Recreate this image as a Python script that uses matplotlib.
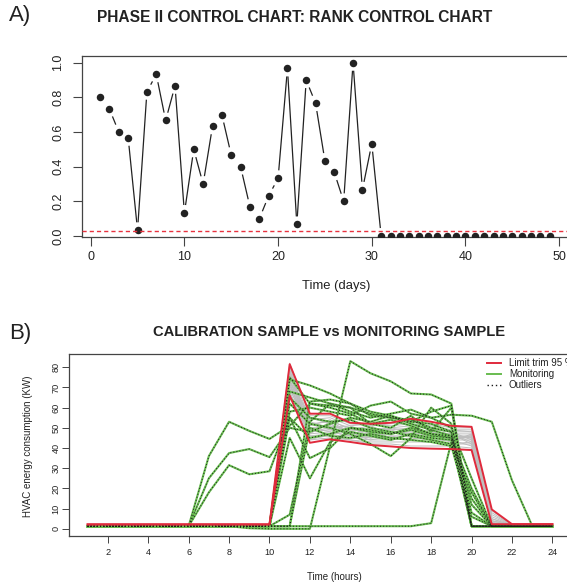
import matplotlib
matplotlib.use('Agg')
import matplotlib.pyplot as plt
from matplotlib.lines import Line2D
import numpy as np

plt.rcParams['font.family'] = ['Liberation Sans', 'DejaVu Sans']

# ---------------- Panel A data ----------------
days = list(range(1, 50))
rank_stat = [0.800, 0.733, 0.600, 0.567, 0.033, 0.833, 0.933, 0.667, 0.867, 0.133,
             0.500, 0.300, 0.633, 0.700, 0.467, 0.400, 0.167, 0.100, 0.233, 0.333,
             0.967, 0.067, 0.900, 0.767, 0.433, 0.367, 0.200, 1.000, 0.267, 0.533,
             0.0, 0.0, 0.0, 0.0, 0.0, 0.0, 0.0, 0.0, 0.0, 0.0,
             0.0, 0.0, 0.0, 0.0, 0.0, 0.0, 0.0, 0.0, 0.0]
control_limit = 0.027
a_xticks = [0, 10, 20, 30, 40, 50]
a_yticks = [0.0, 0.2, 0.4, 0.6, 0.8, 1.0]
a_yticklabels = ['0.0', '0.2', '0.4', '0.6', '0.8', '1.0']

# ---------------- Panel B data ----------------
hours = list(range(1, 25))
b_xticks = [2, 4, 6, 8, 10, 12, 14, 16, 18, 20, 22, 24]
b_yticks = [0, 10, 20, 30, 40, 50, 60, 70, 80]

limit_upper = [2.2, 2.2, 2.2, 2.2, 2.2, 2.2, 2.2, 2.2, 2.2, 2.2,
               81.5, 57, 57, 52.5, 52, 52.5, 54.5, 53, 51, 50.5, 9.6, 2.3, 2.3, 2.3]
limit_lower = [2.2, 2.2, 2.2, 2.2, 2.2, 2.2, 2.2, 2.2, 2.2, 2.2,
               66, 42.6, 44.3, 43, 41.5, 40.8, 40, 39.7, 39.5, 39, 2.3, 2.3, 2.3, 2.3]

calibration = [
    [1.9, 1.9, 1.9, 1.9, 1.9, 1.9, 1.9, 1.9, 1.9, 1.9, 82, 56, 56, 52, 51, 52, 53, 52, 50, 50, 9, 2.0, 1.9, 1.9],
    [1.8, 1.8, 1.8, 1.8, 1.8, 1.8, 1.8, 1.8, 1.8, 1.8, 80, 54, 55, 51, 52, 51, 52, 51, 49, 49, 8, 1.9, 1.8, 1.8],
    [1.7, 1.7, 1.7, 1.7, 1.7, 1.7, 1.7, 1.7, 1.7, 1.7, 78, 52, 53, 50, 49, 50, 51, 50, 48, 48, 6, 1.8, 1.7, 1.7],
    [1.8, 1.8, 1.8, 1.8, 1.8, 1.8, 1.8, 1.8, 1.8, 1.8, 76, 50, 51, 49, 48, 48, 49, 48, 47, 47, 5, 1.8, 1.8, 1.8],
    [1.6, 1.6, 1.6, 1.6, 1.6, 1.6, 1.6, 1.6, 1.6, 1.6, 74, 48, 50, 47, 47, 47, 48, 47, 46, 46, 4, 1.7, 1.6, 1.6],
    [1.9, 1.9, 1.9, 1.9, 1.9, 1.9, 1.9, 1.9, 1.9, 1.9, 72, 47, 48, 46, 45, 46, 46, 46, 45, 45, 3, 1.9, 1.9, 1.9],
    [1.7, 1.7, 1.7, 1.7, 1.7, 1.7, 1.7, 1.7, 1.7, 1.7, 70, 46, 47, 45, 44, 44, 45, 44, 44, 44, 2, 1.7, 1.7, 1.7],
    [1.8, 1.8, 1.8, 1.8, 1.8, 1.8, 1.8, 1.8, 1.8, 1.8, 68, 45, 46, 44, 43, 43, 43, 43, 42, 42, 2, 1.8, 1.8, 1.8],
    [1.6, 1.6, 1.6, 1.6, 1.6, 1.6, 1.6, 1.6, 1.6, 1.6, 66, 44, 45, 44, 42, 42, 41, 41, 41, 40, 2, 1.6, 1.6, 1.6],
    [1.8, 1.8, 1.8, 1.8, 1.8, 1.8, 1.8, 1.8, 1.8, 1.8, 79, 49, 52, 48, 50, 49, 50, 47, 46, 45, 3, 1.8, 1.8, 1.8],
    [1.7, 1.7, 1.7, 1.7, 1.7, 1.7, 1.7, 1.7, 1.7, 1.7, 77, 53, 50, 51, 47, 48, 47, 49, 48, 44, 4, 1.7, 1.7, 1.7],
    [1.9, 1.9, 1.9, 1.9, 1.9, 1.9, 1.9, 1.9, 1.9, 1.9, 73, 51, 54, 49, 51, 47, 49, 45, 43, 47, 2, 1.9, 1.9, 1.9],
    [1.8, 1.8, 1.8, 1.8, 1.8, 1.8, 1.8, 1.8, 1.8, 1.8, 71, 48, 49, 50, 46, 50, 48, 46, 47, 43, 3, 1.8, 1.8, 1.8],
    [1.6, 1.6, 1.6, 1.6, 1.6, 1.6, 1.6, 1.6, 1.6, 1.6, 75, 55, 52, 47, 49, 45, 44, 48, 45, 46, 5, 1.6, 1.6, 1.6],
    [1.8, 1.8, 1.8, 1.8, 1.8, 1.8, 1.8, 1.8, 1.8, 1.8, 69, 50, 48, 46, 48, 49, 46, 45, 44, 41, 2, 1.8, 1.8, 1.8],
    [1.9, 1.9, 1.9, 1.9, 1.9, 1.9, 1.9, 1.9, 1.9, 1.9, 81, 47, 53, 48, 45, 47, 50, 46, 49, 48, 7, 1.9, 1.9, 1.9],
    [1.7, 1.7, 1.7, 1.7, 1.7, 1.7, 1.7, 1.7, 1.7, 1.7, 67, 46, 44, 45, 47, 44, 47, 44, 42, 43, 2, 1.7, 1.7, 1.7],
    [1.8, 1.8, 1.8, 1.8, 1.8, 1.8, 1.8, 1.8, 1.8, 1.8, 74, 52, 49, 47, 44, 46, 44, 47, 46, 45, 3, 1.8, 1.8, 1.8],
    [1.8, 1.8, 1.8, 1.8, 1.8, 1.8, 1.8, 1.8, 1.8, 1.8, 78, 44, 47, 49, 48, 45, 46, 49, 44, 46, 2, 1.8, 1.8, 1.8],
    [1.7, 1.7, 1.7, 1.7, 1.7, 1.7, 1.7, 1.7, 1.7, 1.7, 72, 49, 51, 46, 46, 48, 47, 48, 47, 42, 4, 1.7, 1.7, 1.7],
]

monitoring = [
    [1.3, 1.3, 1.3, 1.3, 1.3, 1.3, 36, 53, 48.5, 44.5, 51, 62, 61, 60, 57, 55, 53, 52, 48, 1.3, 1.3, 1.3, 1.3, 1.3],
    [1.3, 1.3, 1.3, 1.3, 1.3, 1.3, 25, 37.5, 39.5, 35.5, 50, 48, 52, 55, 53, 56, 52, 49, 46, 12, 1.3, 1.3, 1.3, 1.3],
    [1.3, 1.3, 1.3, 1.3, 1.3, 1.3, 18, 31.5, 27, 28.5, 55, 45, 47, 50, 48, 47, 49, 46, 45, 20, 1.3, 1.3, 1.3, 1.3],
    [1.3, 1.3, 1.3, 1.3, 1.3, 1.3, 1.3, 1.3, 0.3, 0.0, 0.0, 0.0, 41, 83, 77, 73, 67, 66.5, 62, 1.3, 1.3, 1.3, 1.3, 1.3],
    [1.3, 1.3, 1.3, 1.3, 1.3, 1.3, 1.3, 1.3, 1.3, 1.3, 1.3, 1.3, 1.3, 1.3, 1.3, 1.3, 1.3, 2.8, 43, 1.3, 1.3, 1.3, 1.3, 1.3],
    [1.3, 1.3, 1.3, 1.3, 1.3, 1.3, 1.3, 1.3, 1.3, 1.3, 58, 60, 58, 56, 61, 63, 57, 55, 56.5, 56, 53, 24, 1.5, 1.5],
    [1.3, 1.3, 1.3, 1.3, 1.3, 1.3, 1.3, 1.3, 1.3, 1.3, 74, 71, 67, 62, 56, 55, 54, 50, 48, 8, 1.3, 1.3, 1.3, 1.3],
    [1.3, 1.3, 1.3, 1.3, 1.3, 1.3, 1.3, 1.3, 1.3, 1.3, 45, 25, 43, 48, 46, 44, 47, 45, 44, 1.3, 1.3, 1.3, 1.3, 1.3],
    [1.3, 1.3, 1.3, 1.3, 1.3, 1.3, 1.3, 1.3, 1.3, 1.3, 55, 35, 40, 50, 49, 47, 50, 47, 45, 15, 1.3, 1.3, 1.3, 1.3],
    [1.3, 1.3, 1.3, 1.3, 1.3, 1.3, 1.3, 1.3, 1.3, 1.3, 62, 52, 50, 47, 42, 36, 45, 60, 52, 1.3, 1.3, 1.3, 1.3, 1.3],
    [1.3, 1.3, 1.3, 1.3, 1.3, 1.3, 1.3, 1.3, 1.3, 1.3, 7, 53, 62, 60, 52, 50, 56, 48, 60, 1.3, 1.3, 1.3, 1.3, 1.3],
    [1.3, 1.3, 1.3, 1.3, 1.3, 1.3, 1.3, 1.3, 1.3, 1.3, 1.3, 63, 64, 62, 58, 56, 53, 58, 61, 1.3, 1.3, 1.3, 1.3, 1.3],
    [1.3, 1.3, 1.3, 1.3, 1.3, 1.3, 1.3, 1.3, 1.3, 1.3, 68, 65, 62, 58, 55, 57, 59, 55, 50, 25, 1.3, 1.3, 1.3, 1.3],
    [1.3, 1.3, 1.3, 1.3, 1.3, 1.3, 1.3, 1.3, 1.3, 1.3, 75, 62, 60, 57, 52, 54, 51, 47, 46, 1.3, 1.3, 1.3, 1.3, 1.3],
    [1.3, 1.3, 1.3, 1.3, 1.3, 1.3, 1.3, 1.3, 1.3, 1.3, 65, 55, 53, 54, 50, 48, 46, 44, 42, 18, 1.3, 1.3, 1.3, 1.3],
    [1.3, 1.3, 1.3, 1.3, 1.3, 1.3, 1.3, 1.3, 1.3, 1.3, 1.3, 50, 46, 45, 47, 45, 44, 43, 41, 6, 1.3, 1.3, 1.3, 1.3],
]

legend_labels = ['Limit trim 95 %', 'Monitoring', 'Outliers']

# ---------------- colours ----------------
INK = '#222222'
SPINE = '#444444'
RED = '#E02A3C'
GREEN = '#68BC50'
GRAY = '#BEBEBE'
DOT = '#1a1a1a'

W, H = 567, 585
fig = plt.figure(figsize=(W / 100, H / 100), dpi=100)


def fx(px):
    return px / W


def fy(py):
    return 1 - py / H


# ================= Panel A =================
axA = fig.add_axes([fx(81.7), fy(237.3), 486.1 / W, 181.3 / H])
axA.set_xlim(-0.96, 50.92)
axA.set_ylim(-0.0075, 1.039)

# R type="b": segments with gaps around the points
pts = axA.transData.transform(np.column_stack([days, rank_stat]))
gap = 8.0
inv = axA.transData.inverted()
for (x0, y0), (x1, y1) in zip(pts[:-1], pts[1:]):
    d = np.hypot(x1 - x0, y1 - y0)
    if d > 2 * gap:
        ux, uy = (x1 - x0) / d, (y1 - y0) / d
        seg = inv.transform([(x0 + ux * gap, y0 + uy * gap), (x1 - ux * gap, y1 - uy * gap)])
        axA.plot(seg[:, 0], seg[:, 1], color=INK, lw=0.9, solid_capstyle='butt')
axA.plot(days, rank_stat, 'o', ms=5.4, color=INK, mew=0, zorder=3)
axA.axhline(control_limit, color='#E8323E', ls=(0, (3, 2.2)), lw=1.0, zorder=4)

axA.set_xticks(a_xticks)
axA.set_yticks(a_yticks)
axA.set_yticklabels(a_yticklabels)
for s in axA.spines.values():
    s.set_color(SPINE)
    s.set_linewidth(0.9)
axA.tick_params(axis='both', length=6.8, width=0.8, color=SPINE, labelcolor=INK, labelsize=9)
axA.tick_params(axis='x', pad=3)
axA.tick_params(axis='y', pad=5.8)
for t in axA.get_yticklabels():
    t.set_rotation(90)
    t.set_va('center')

fig.text(fx(9), fy(16), 'A)', fontsize=16, ha='left', va='center', color=INK)
fig.text(fx(295), fy(17), 'PHASE II CONTROL CHART: RANK CONTROL CHART', fontsize=11.2,
         weight='bold', ha='center', va='center', color=INK)
fig.text(fx(336), fy(286), 'Time (days)', fontsize=9.4, ha='center', va='center', color=INK)

# ================= Panel B =================
axB = fig.add_axes([fx(69), fy(535.7), 502 / W, 181.4 / H])
axB.set_xlim(0.08, 24.92)
axB.set_ylim(-3.4, 86.4)

for row in calibration:
    axB.plot(hours, row, color=GRAY, lw=0.7, zorder=1)
for row in monitoring:
    axB.plot(hours, row, color=GREEN, lw=1.5, zorder=2)
for row in monitoring:
    axB.plot(hours, row, color=DOT, lw=0.7, ls=(0, (1, 2.2)), zorder=3)
axB.plot(hours, limit_upper, color=RED, lw=1.4, zorder=4)
axB.plot(hours, limit_lower, color=RED, lw=1.4, zorder=4)

axB.set_xticks(b_xticks)
axB.set_yticks(b_yticks)
for s in axB.spines.values():
    s.set_color(SPINE)
    s.set_linewidth(0.9)
axB.tick_params(axis='both', length=5, width=0.7, color=SPINE, labelcolor=INK, labelsize=6.6)
axB.tick_params(axis='x', pad=4.2)
axB.tick_params(axis='y', pad=1.0)
for t in axB.get_yticklabels():
    t.set_rotation(90)
    t.set_va('center')

handles = [Line2D([], [], color=RED, lw=1.4),
           Line2D([], [], color=GREEN, lw=1.4),
           Line2D([], [], color=DOT, lw=1.0, ls=(0, (1, 2.0)))]
axB.legend(handles, legend_labels, loc='upper left', bbox_to_anchor=(fx(487), fy(358)),
           bbox_transform=fig.transFigure, frameon=False, fontsize=7, handlelength=1.45,
           handletextpad=0.8, labelspacing=0.12, borderpad=0, borderaxespad=0,
           labelcolor=INK)

fig.text(fx(9), fy(333), 'B)', fontsize=16, ha='left', va='center', color=INK)
fig.text(fx(329), fy(332), 'CALIBRATION SAMPLE vs MONITORING SAMPLE', fontsize=10.6,
         weight='bold', ha='center', va='center', color=INK)
fig.text(fx(334), fy(577), 'Time (hours)', fontsize=7, ha='center', va='center', color=INK)
fig.text(fx(28), fy(446), 'HVAC energy consumption (KW)', fontsize=7, rotation=90,
         ha='center', va='center', color=INK)

fig.savefig('out.png', dpi=100)
